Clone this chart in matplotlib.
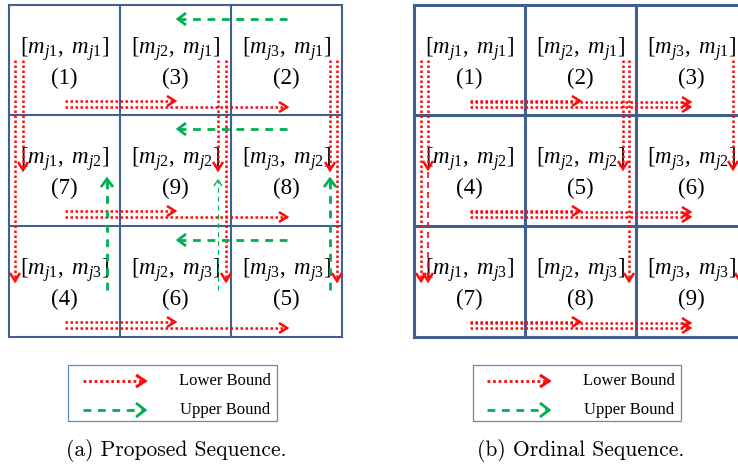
import matplotlib
matplotlib.use("Agg")
import matplotlib.pyplot as plt
import numpy as np

plt.rcParams["mathtext.fontset"] = "custom"
plt.rcParams["mathtext.rm"] = "Liberation Serif"
plt.rcParams["mathtext.it"] = "Liberation Serif:italic"
plt.rcParams["font.family"] = ["Liberation Serif", "DejaVu Serif"]

# ---- content ----
col_ids = ["j1", "j2", "j3"]
row_ids = ["j1", "j2", "j3"]
proposed_order = [[1, 3, 2], [7, 9, 8], [4, 6, 5]]
ordinal_order = [[1, 2, 3], [4, 5, 6], [7, 8, 9]]
captions = ["(a) Proposed Sequence.", "(b) Ordinal Sequence."]
legend_labels = ["Lower Bound", "Upper Bound"]

# ---- style ----
GRID = "#41608F"
RED = "#FF0A0A"
GREEN = "#00B050"
LEG_EDGE = "#5B8BC9"
DOT = (0, (1, 1))
DASH = (0, (2.8, 2.4))

W, H = 738, 469
fig = plt.figure(figsize=(W / 100, H / 100), dpi=100)
ax = fig.add_axes([0, 0, 1, 1])
ax.set_xlim(0, W)
ax.set_ylim(H, 0)
ax.axis("off")

ys = [5, 115, 226, 337]
panel_xs = [[9, 120, 231, 342], [414, 525, 636, 747]]
grid_lw = [1.5, 2.2]


def head(x, y, direction, color, lw=1.6, length=8, half=5):
    dx, dy = direction
    px, py = -dy, dx
    pts = np.array([[x - dx * length + px * half, y - dy * length + py * half],
                    [x, y],
                    [x - dx * length - px * half, y - dy * length - py * half]])
    ax.plot(pts[:, 0], pts[:, 1], color=color, lw=lw, solid_capstyle="butt",
            solid_joinstyle="miter", zorder=5)


def arrow(x0, y0, x1, y1, color, ls, lw, hl=8, hw=5, hlw=1.8):
    ax.plot([x0, x1], [y0, y1], color=color, ls=ls, lw=lw, zorder=4,
            dash_capstyle="butt")
    d = np.array([x1 - x0, y1 - y0], dtype=float)
    d /= np.hypot(*d)
    head(x1, y1, d, color, lw=hlw, length=hl, half=hw)


def red(x0, y0, x1, y1):
    arrow(x0, y0, x1, y1, RED, DOT, 1.8)


def green(x0, y0, x1, y1, thin=False):
    if thin:
        arrow(x0, y0, x1, y1, GREEN, (0, (4.5, 3.5)), 0.8, hl=6, hw=4, hlw=1.0)
    else:
        arrow(x0, y0, x1, y1, GREEN, DASH, 2.0, hl=8, hw=6, hlw=2.0)


# ---- grids and cell labels ----
for p, xs in enumerate(panel_xs):
    order = proposed_order if p == 0 else ordinal_order
    for x in xs:
        ax.plot([x, x], [ys[0], ys[-1]], color=GRID, lw=grid_lw[p], zorder=2,
                solid_capstyle="projecting")
    for y in ys:
        ax.plot([xs[0], xs[-1]], [y, y], color=GRID, lw=grid_lw[p], zorder=2,
                solid_capstyle="projecting")
    for r in range(3):
        for c in range(3):
            cx = (xs[c] + xs[c + 1]) / 2
            top = ys[r]
            ax.text(cx, top + 44, r"$[m_{%s},\ m_{%s}]$" % (col_ids[c], row_ids[r]),
                    ha="center", va="center", fontsize=16.5, zorder=3)
            ax.text(cx, top + 73, "(%d)" % order[r][c], ha="center", va="center",
                    fontsize=16.5, zorder=3)

# ---- (a) proposed sequence: lower bound paths ----
xa = panel_xs[0]
for x, y1 in [(xa[0] + 14, 170), (xa[0] + 6, 281),
              (xa[2] - 13, 170), (xa[2] - 5, 281),
              (xa[3] - 12, 170), (xa[3] - 5, 281)]:
    red(x, 60, x, y1)
for top in ys[:3]:
    red(65, top + 96, 175, top + 96)
    red(65, top + 102, 287, top + 102)

# ---- (a) proposed sequence: upper bound paths ----
for top in ys[:3]:
    green(287, top + 14, 178, top + 14)
green(107, 290, 107, 179)
green(218, 290, 218, 180, thin=True)
green(330, 290, 330, 179)

# ---- (b) ordinal sequence: lower bound paths ----
xb = panel_xs[1]
for x, y1 in [(xb[0] + 7, 281), (xb[0] + 14, 169),
              (xb[2] - 13, 169), (xb[2] - 7, 281),
              (xb[3] - 14, 169), (xb[3] - 7, 281)]:
    red(x, 60, x, y1)
arrow(xb[0] + 14, 172, xb[0] + 14, 281, RED, (0, (3.6, 2.4)), 1.2)
for top in ys[:3]:
    red(470, top + 96, 580, top + 96)
    red(470, top + 97, 690, top + 97)
    red(470, top + 102, 690, top + 102)

# ---- legends ----
for (bx0, bx1, ax0, ax1, tx) in [(68, 277, 83, 145, 225), (473, 681, 487, 549, 629)]:
    ax.add_patch(plt.Rectangle((bx0, 365), bx1 - bx0, 56, fill=False,
                               edgecolor=LEG_EDGE, lw=0.9, zorder=3))
    arrow(ax0, 381, ax1, 381, RED, DOT, 2.0, hl=9, hw=6, hlw=2.2)
    arrow(ax0, 410, ax1, 410, GREEN, DASH, 2.0, hl=9, hw=7, hlw=2.0)
    ax.text(tx, 381, legend_labels[0], ha="center", va="center", fontsize=12)
    ax.text(tx, 410, legend_labels[1], ha="center", va="center", fontsize=12)

# ---- captions ----
for cx, cap in zip([176, 581], captions):
    ax.text(cx, 450, cap, ha="center", va="center", fontsize=15.5,
            family=["cmr10", "DejaVu Serif"])

fig.savefig("out.png", dpi=100)
